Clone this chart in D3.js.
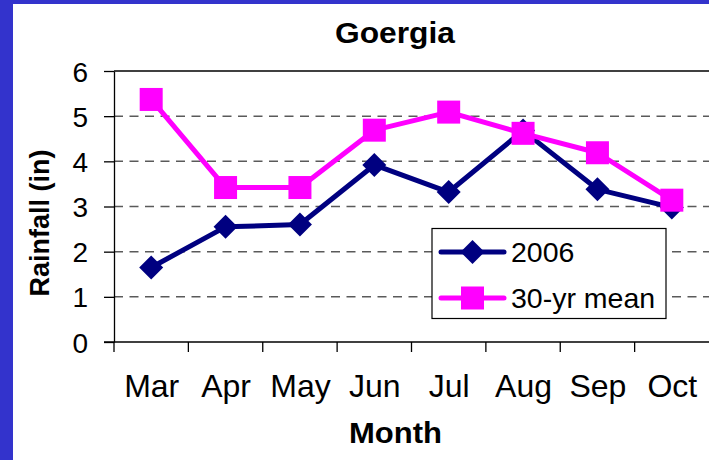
<!DOCTYPE html>
<html><head><meta charset="utf-8">
<script src="https://cdn.jsdelivr.net/npm/d3@7"></script>
<style>
html,body{margin:0;padding:0;background:#fff;}
svg{display:block;font-family:"Liberation Sans",Arial,sans-serif;}
</style></head>
<body>
<svg id="chart" width="709" height="460"></svg>
<script>
const months = ["Mar","Apr","May","Jun","Jul","Aug","Sep","Oct"];
const rain2006 = [1.65, 2.55, 2.6, 3.92, 3.32, 4.68, 3.38, 2.98];
const rainMean = [5.37, 3.42, 3.42, 4.69, 5.09, 4.62, 4.19, 3.14];
const yTicks = [0,1,2,3,4,5,6];
const seriesNames = ["2006","30-yr mean"];

const svg = d3.select("#chart");
// background and border
svg.append("rect").attr("x",0).attr("y",0).attr("width",709).attr("height",460).attr("fill","#fff");
svg.append("rect").attr("x",0).attr("y",0).attr("width",709).attr("height",4).attr("fill","#3333cc");
svg.append("rect").attr("x",0).attr("y",0).attr("width",13).attr("height",460).attr("fill","#3333cc");

const x = d3.scaleBand().domain(months).range([114, 709]).paddingInner(0).paddingOuter(0);
const y = d3.scaleLinear().domain([0,6]).range([342, 71]);
const cx = m => x(m) + x.bandwidth()/2;

// gridlines
svg.append("g").selectAll("line").data(yTicks.filter(t=>t>0 && t<6)).join("line")
  .attr("x1",114).attr("x2",709).attr("y1",d=>y(d)).attr("y2",d=>y(d))
  .attr("stroke","#5a5a5a").attr("stroke-width",1.5).attr("stroke-dasharray","9,6.5");
// top border
svg.append("line").attr("x1",114).attr("x2",709).attr("y1",y(6)).attr("y2",y(6))
  .attr("stroke","#000").attr("stroke-width",1.3);

// y axis
const yAxis = svg.append("g").attr("transform","translate(114,0)")
  .call(d3.axisLeft(y).tickValues(yTicks).tickSize(10).tickSizeOuter(0).tickFormat(d3.format("d")));
yAxis.select(".domain").attr("stroke","#000").attr("stroke-width",1.3);
yAxis.selectAll(".tick line").attr("stroke","#000").attr("stroke-width",1.3);
yAxis.selectAll(".tick text").attr("x",-26).attr("dy","0.36em")
  .attr("font-size",28).attr("fill","#000").attr("font-family","Liberation Sans, Arial, sans-serif");

// x axis (labels at centers, ticks at band boundaries)
const xAxis = svg.append("g").attr("transform","translate(0,342)")
  .call(d3.axisBottom(d3.scalePoint().domain(months).range([cx(months[0]), cx(months[months.length-1])]))
    .tickSize(0).tickSizeOuter(0));
xAxis.select(".domain").remove();
xAxis.selectAll(".tick text").attr("y",55).attr("dy",0)
  .attr("font-size",32).attr("fill","#000").attr("font-family","Liberation Sans, Arial, sans-serif");
svg.append("line").attr("x1",104).attr("x2",709).attr("y1",342).attr("y2",342)
  .attr("stroke","#000").attr("stroke-width",1.3);
svg.append("g").selectAll("line").data(months).join("line")
  .attr("x1",d=>x(d)).attr("x2",d=>x(d)).attr("y1",342).attr("y2",352)
  .attr("stroke","#000").attr("stroke-width",1.3);

// series
const series = [
  {name: seriesNames[0], values: rain2006, color:"#000080", marker:"diamond"},
  {name: seriesNames[1], values: rainMean, color:"#ff00ff", marker:"square"}
];
const line = d3.line().x((d,i)=>cx(months[i])).y(d=>y(d));
function drawMarker(g, type, color){
  if(type==="diamond"){
    g.append("path").attr("d","M0,-12L12,0L0,12L-12,0Z").attr("fill",color);
  } else {
    g.append("rect").attr("x",-11.5).attr("y",-11.5).attr("width",23).attr("height",23).attr("fill",color);
  }
}
series.forEach(s=>{
  svg.append("path").datum(s.values).attr("d",line).attr("fill","none")
    .attr("stroke",s.color).attr("stroke-width",5).attr("stroke-linejoin","round");
  s.values.forEach((v,i)=>{
    const g = svg.append("g").attr("transform",`translate(${cx(months[i])},${y(v)})`);
    drawMarker(g, s.marker, s.color);
  });
});

// legend
const lg = svg.append("g");
lg.append("rect").attr("x",432).attr("y",228.5).attr("width",234).attr("height",90)
  .attr("fill","#fff").attr("stroke","#000").attr("stroke-width",1.2);
series.forEach((s,i)=>{
  const ly = 252 + i*46;
  lg.append("line").attr("x1",441).attr("x2",504).attr("y1",ly).attr("y2",ly)
    .attr("stroke",s.color).attr("stroke-width",5).attr("stroke-linecap","round");
  const g = lg.append("g").attr("transform",`translate(472.5,${ly})`);
  drawMarker(g, s.marker, s.color);
  lg.append("text").attr("x",511).attr("y",ly+10).attr("font-size",28.5).attr("fill","#000").text(s.name);
});

// titles
svg.append("text").attr("x",335).attr("y",43)
  .attr("font-size",29).attr("font-weight","bold")
  .attr("textLength",120).attr("lengthAdjust","spacingAndGlyphs").text("Goergia");
svg.append("text").attr("x",349).attr("y",443)
  .attr("font-size",29).attr("font-weight","bold")
  .attr("textLength",93).attr("lengthAdjust","spacingAndGlyphs").text("Month");
svg.append("text").attr("transform","translate(49,223) rotate(-90)").attr("text-anchor","middle")
  .attr("font-size",27).attr("font-weight","bold").text("Rainfall (in)");
</script>
</body></html>
